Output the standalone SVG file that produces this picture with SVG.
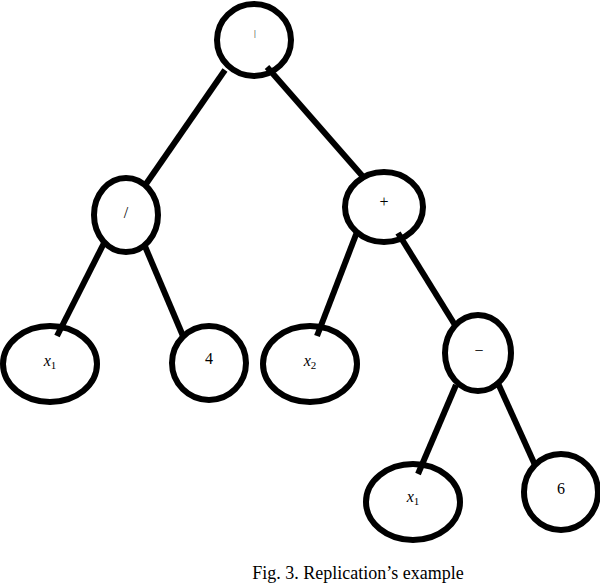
<svg xmlns="http://www.w3.org/2000/svg" width="600" height="585" viewBox="0 0 600 585">
<style>
.n{fill:#fff;stroke:#000;stroke-width:6}
.e{stroke:#000;stroke-width:6;fill:none}
.t{font-family:"Liberation Serif","Times New Roman",serif;font-size:16px;fill:#000;text-anchor:middle}
.i{font-style:italic}
.s{font-size:11px}
</style>
<rect width="600" height="585" fill="#fff"/>
<g id="n-root"><ellipse class="n" cx="254" cy="40" rx="37" ry="36"/><text class="t" x="255" y="36" style="font-size:9px">|</text></g>
<g id="n-div"><ellipse class="n" cx="126" cy="215" rx="32" ry="37"/><text class="t" x="126" y="218">/</text></g>
<g id="n-plus"><ellipse class="n" cx="384" cy="207" rx="39" ry="35"/><text class="t" x="384" y="207">+</text></g>
<g id="n-x1a"><ellipse class="n" cx="50" cy="364" rx="47" ry="38"/><text class="t" x="50" y="366"><tspan class="i">x</tspan><tspan class="s" dy="3">1</tspan></text></g>
<g id="n-4"><ellipse class="n" cx="209" cy="363" rx="37" ry="37"/><text class="t" x="209" y="364">4</text></g>
<g id="n-x2"><ellipse class="n" cx="310" cy="364" rx="47" ry="38"/><text class="t" x="310" y="366"><tspan class="i">x</tspan><tspan class="s" dy="3">2</tspan></text></g>
<g id="n-minus"><ellipse class="n" cx="478" cy="353" rx="33" ry="38"/><text class="t" x="479" y="356">−</text></g>
<g id="n-x1b"><ellipse class="n" cx="413" cy="502" rx="47" ry="38"/><text class="t" x="413" y="502"><tspan class="i">x</tspan><tspan class="s" dy="3">1</tspan></text></g>
<g id="n-6"><ellipse class="n" cx="561" cy="492" rx="37" ry="38"/><text class="t" x="561" y="494">6</text></g>
<g id="connectors">
<line class="e" x1="225" y1="70" x2="146" y2="184"/>
<line class="e" x1="267" y1="67" x2="365" y2="179"/>
<line class="e" x1="104" y1="243" x2="57" y2="336"/>
<line class="e" x1="144" y1="244" x2="183" y2="336"/>
<line class="e" x1="357" y1="232" x2="317" y2="336"/>
<line class="e" x1="398" y1="233" x2="455" y2="325"/>
<line class="e" x1="456" y1="385" x2="418" y2="474"/>
<line class="e" x1="497" y1="381" x2="535" y2="465"/>
</g>
<text class="t" x="358" y="579" style="font-size:18px">Fig. 3. Replication’s example</text>
</svg>
